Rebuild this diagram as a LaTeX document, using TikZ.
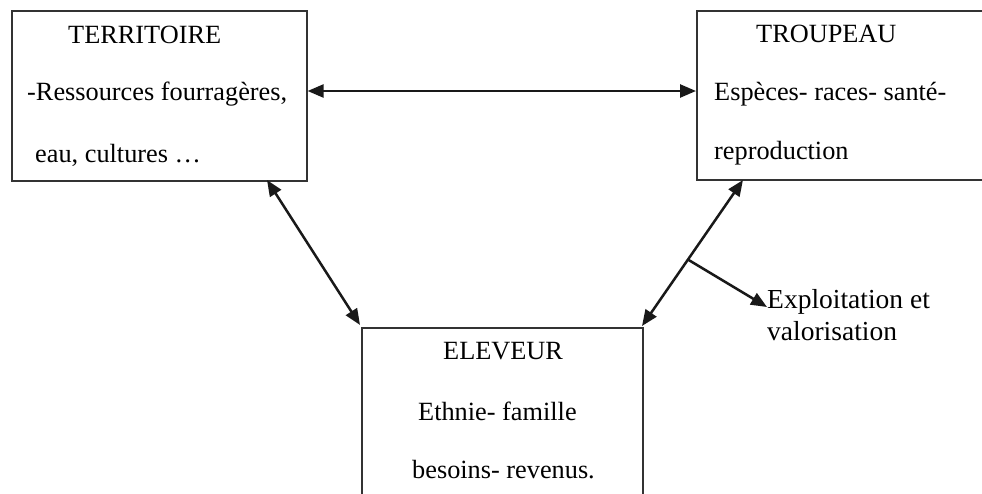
\documentclass[tikz,border=0pt]{standalone}
\usepackage{fontspec}
\setmainfont{Liberation Serif}
\usetikzlibrary{arrows.meta,calc}
\begin{document}
\begin{tikzpicture}[x=1pt,y=-1pt,
  boxnode/.style={draw=black!80,line width=1.6pt,rectangle,inner sep=0pt,anchor=north west},
  lbl/.style={anchor=base west,inner sep=0pt,font=\fontsize{26.3}{30}\selectfont},
  sidelbl/.style={anchor=base west,inner sep=0pt,font=\fontsize{27.5}{31}\selectfont},
  conn/.style={line width=2.5pt,draw=black!90,{Triangle[length=16pt,width=13pt]}-{Triangle[length=16pt,width=13pt]}},
  oneway/.style={line width=2.5pt,draw=black!90,-{Triangle[length=16pt,width=13pt]}}]
\useasboundingbox (0,0) rectangle (982,493);
\clip (0,0) rectangle (982,493);
% boxes
\node[boxnode,minimum width=295pt,minimum height=170pt] (terr) at (11,10) {};
\node[boxnode,minimum width=320pt,minimum height=169pt] (troup) at (696,10) {};
\node[boxnode,minimum width=281pt,minimum height=200pt] (elev) at (361,327) {};
% texts
\node[lbl] (t1) at (68,43) {TERRITOIRE};
\node[lbl] (t2) at (27,100) {-Ressources fourragères,};
\node[lbl] (t3) at (35,162) {eau, cultures …};
\node[lbl] (u1) at (756,42) {TROUPEAU};
\node[lbl] (u2) at (714,100) {Espèces- races- santé-};
\node[lbl] (u3) at (714,159) {reproduction};
\node[lbl] (e1) at (443,359) {ELEVEUR};
\node[lbl] (e2) at (418,420) {Ethnie- famille};
\node[lbl] (e3) at (412,478) {besoins- revenus.};
\node[sidelbl] (x1) at (767,308) {Exploitation et};
\node[sidelbl] (x2) at (767,340) {valorisation};
% connector end points on the boxes
\coordinate (terrE) at (terr.north east |- 0,91);
\coordinate (troupW) at (troup.north west |- 0,91);
\coordinate (terrS) at (267,180);
\coordinate (elevNW) at (360,325);
\coordinate (troupS) at (743,180);
\coordinate (elevNE) at (642,326);
\coordinate (branch) at ($(troupS)!0.545!(elevNE)$);
\coordinate (branchEnd) at (767,307);
% connectors
\draw[conn] (terrE) -- (troupW);
\draw[conn] (terrS) -- (elevNW);
\draw[conn] (troupS) -- (elevNE);
\draw[oneway] (branch) -- (branchEnd);
\end{tikzpicture}
\end{document}
